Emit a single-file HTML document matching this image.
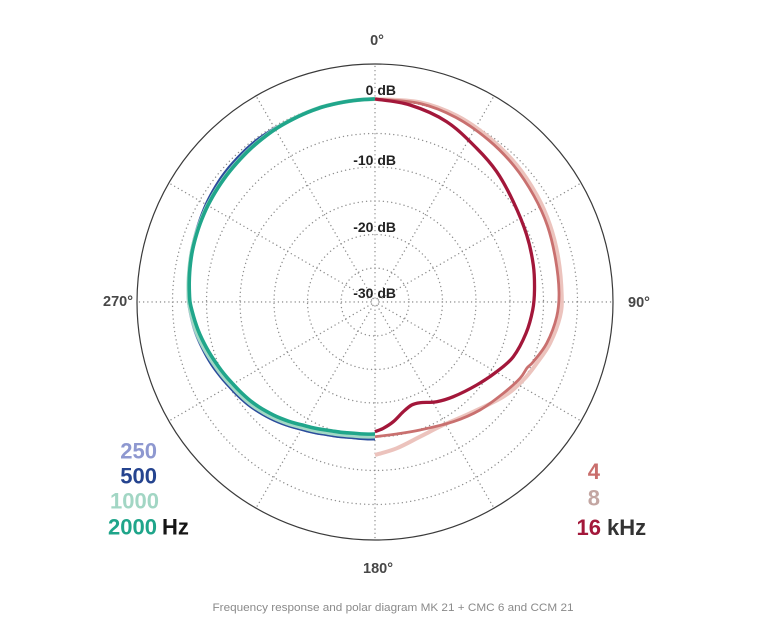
<!DOCTYPE html>
<html>
<head>
<meta charset="utf-8">
<style>
html,body{margin:0;padding:0;background:#fff;}
svg{display:block;}
text{font-family:"Liberation Sans",Arial,sans-serif;}
</style>
</head>
<body>
<svg id="chart" width="780" height="638" viewBox="0 0 780 638" xmlns="http://www.w3.org/2000/svg">
<rect width="780" height="638" fill="#fff"/>
<g id="grid" fill="none" stroke="#8e8e8e" stroke-width="1.4" stroke-linecap="round" stroke-dasharray="0.01 4.2">
  <circle cx="375" cy="302" r="4"/>
  <circle cx="375" cy="302" r="34"/>
  <circle cx="375" cy="302" r="67.5"/>
  <circle cx="375" cy="302" r="101"/>
  <circle cx="375" cy="302" r="135"/>
  <circle cx="375" cy="302" r="168.5"/>
  <circle cx="375" cy="302" r="202.5"/>
</g>
<circle cx="375" cy="302" r="238" fill="none" stroke="#3a3a3a" stroke-width="1.2"/>
<g id="curves" fill="none" stroke-linecap="butt" stroke-linejoin="round"></g>

<g font-weight="bold" fill="#222" font-size="14" text-anchor="end">
  <text x="396" y="95">0 dB</text>
  <text x="396" y="165">-10 dB</text>
  <text x="396" y="232">-20 dB</text>
  <text x="396" y="298">-30 dB</text>
</g>
<g font-weight="bold" fill="#474747" font-size="14.5">
  <text x="377" y="45" text-anchor="middle">0°</text>
  <text x="378" y="573" text-anchor="middle">180°</text>
  <text x="133" y="306" text-anchor="end">270°</text>
  <text x="628" y="307">90°</text>
</g>
<g font-weight="bold" font-size="22">
  <text x="157" y="458.5" text-anchor="end" fill="#8e98d0">250</text>
  <text x="157" y="483.5" text-anchor="end" fill="#25448f">500</text>
  <text x="159" y="508.5" text-anchor="end" fill="#a2d6c4">1000</text>
  <text x="157" y="534.5" text-anchor="end" fill="#1fa58a">2000</text>
  <text x="162" y="534.5" fill="#151515">Hz</text>
  <text x="600" y="479" text-anchor="end" fill="#c96e6c">4</text>
  <text x="600" y="505.5" text-anchor="end" fill="#c3a6a2">8</text>
  <text x="601" y="535" text-anchor="end" fill="#a3183a">16</text>
  <text x="607" y="535" fill="#333">kHz</text>
</g>
<text x="393" y="611" text-anchor="middle" font-size="11.2" fill="#8a8a8a" textLength="361" lengthAdjust="spacingAndGlyphs">Frequency response and polar diagram MK 21 + CMC 6 and CCM 21</text>
</svg>
<script>
(function(){
  var NS="http://www.w3.org/2000/svg";
  var cx=375, cy=302;
  var grid=document.getElementById('grid');
  for(var k=0;k<12;k++){
    var a=k*30*Math.PI/180;
    var l=document.createElementNS(NS,'line');
    l.setAttribute('x1',(cx+4*Math.sin(a)).toFixed(2));
    l.setAttribute('y1',(cy-4*Math.cos(a)).toFixed(2));
    l.setAttribute('x2',(cx+236*Math.sin(a)).toFixed(2));
    l.setAttribute('y2',(cy-236*Math.cos(a)).toFixed(2));
    grid.appendChild(l);
  }
  function interp(tab,a){
    if(a<=tab[0][0])return tab[0][1];
    for(var i=0;i<tab.length-1;i++){
      if(a>=tab[i][0]&&a<=tab[i+1][0]){
        var t=(a-tab[i][0])/(tab[i+1][0]-tab[i][0]);
        return tab[i][1]+t*(tab[i+1][1]-tab[i][1]);
      }
    }
    return tab[tab.length-1][1];
  }
  var teal=[[0,203],[15,202],[30,199.5],[45,196],[60,193],[75,189.5],[90,185],[100,178.5],[110,171],[120,164],[130,158],[140,150.5],[150,142.5],[160,136.5],[170,133],[180,132]];
  function leftPts(off){
    var p=[];
    for(var a=0;a<=180;a+=3){
      var r=interp(teal,a)+interp(off,a);
      var ar=a*Math.PI/180;
      p.push([cx-r*Math.sin(ar), cy-r*Math.cos(ar)]);
    }
    return p;
  }
  function path(p){
    var d='M'+p[0][0].toFixed(2)+','+p[0][1].toFixed(2);
    for(var i=0;i<p.length-1;i++){
      var p0=p[i-1]||p[i],p1=p[i],p2=p[i+1],p3=p[i+2]||p2;
      var c1x=p1[0]+(p2[0]-p0[0])/6,c1y=p1[1]+(p2[1]-p0[1])/6;
      var c2x=p2[0]-(p3[0]-p1[0])/6,c2y=p2[1]-(p3[1]-p1[1])/6;
      d+=' C'+c1x.toFixed(2)+','+c1y.toFixed(2)+' '+c2x.toFixed(2)+','+c2y.toFixed(2)+' '+p2[0].toFixed(2)+','+p2[1].toFixed(2);
    }
    return d;
  }
  var g=document.getElementById('curves');
  function add(p,color,w){
    var e=document.createElementNS(NS,'path');
    e.setAttribute('d',path(p));
    e.setAttribute('stroke',color);
    e.setAttribute('stroke-width',w);
    g.appendChild(e);
  }
  // left side
  add(leftPts([[0,0],[25,0],[37,2.5],[50,3],[60,2],[70,1],[80,0.5],[90,1.5],[100,3.5],[110,4.5],[170,4.5],[180,4.5]]),'#8f9bd3',3);
  add(leftPts([[0,0],[25,0],[37,3],[50,3.5],[60,2.5],[70,1],[80,0.5],[90,1],[100,3.5],[110,5],[170,5],[180,5.5]]),'#2b4c9b',2);
  add(leftPts([[0,0],[80,0.5],[90,1],[100,2.5],[170,2.5],[180,2.5]]),'#a3d8c5',4);
  add(leftPts([[0,0],[180,0]]),'#20a68b',3.6);
  // right side
  var k8=[[375,99],[420,102.3],[456.7,115.7],[490,138.3],[516.7,165],[536.7,195],[550,225],[558.3,258.3],[561.7,295],[560,316.7],[550,343.3],[536.7,363.3],[523.3,380],[503.3,396.7],[470,413.3],[443.3,425],[420,436.7],[396.7,448.3],[375,455]];
  var k4=[[375,99],[420,103.5],[456,117.5],[488.5,140],[514.5,166.5],[534,196],[547.5,226],[555.5,259],[559,292],[556.7,316.7],[546.7,343.3],[533.3,361.7],[527,368],[520,378.3],[503.3,393.3],[480,410],[453.3,421.7],[420,430],[396.7,434],[375,436.7]];
  var k16=[[375,99],[410,105],[446.7,121.7],[476.7,148.3],[496.7,171.7],[513.3,201.7],[526.7,235],[533.3,265],[534.5,290],[532.7,310],[526,333.3],[513.3,356.7],[496.7,371.7],[476.7,385],[453.3,396.7],[436.7,401.7],[420,402.7],[411.7,405],[403.3,411.7],[393.3,421.7],[383.3,428.3],[375,431.7]];
  add(k8,'#ecc3bd',4);
  add(k4,'#c9706f',2.8);
  add(k16,'#a3173a',3.3);
})();
</script>
</body>
</html>
